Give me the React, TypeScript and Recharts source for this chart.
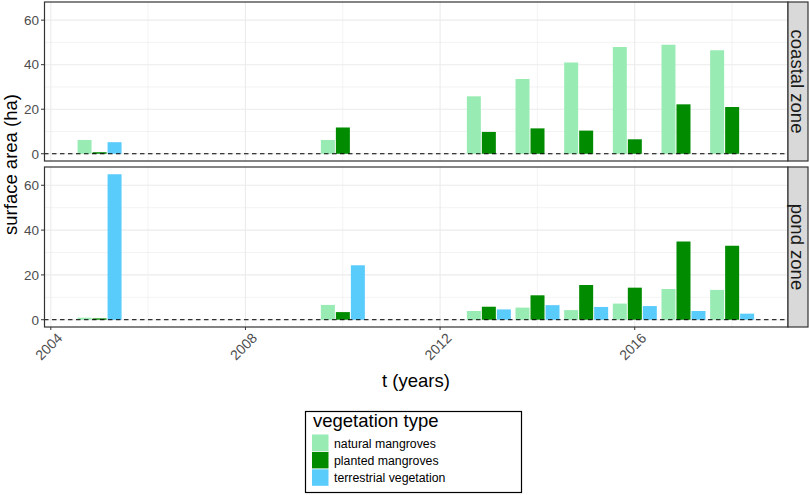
import React from "react";
import { Bar, BarChart, CartesianGrid, ReferenceLine, XAxis, YAxis } from "recharts";

// years with observations
const years = [2005, 2010, 2013, 2014, 2015, 2016, 2017, 2018];

// surface area (ha) per vegetation type
const coastalNatural = [6.2, 6.2, 25.8, 33.6, 41.0, 47.9, 49.0, 46.5];
const coastalPlanted = [0.7, 11.8, 9.8, 11.4, 10.4, 6.5, 22.2, 21.0];
const coastalTerrestrial = [5.2, null, null, null, null, null, null, null];

const pondNatural = [0.9, 6.6, 3.9, 5.4, 4.3, 7.2, 13.7, 13.3];
const pondPlanted = [0.6, 3.4, 5.8, 10.9, 15.5, 14.3, 34.9, 33.0];
const pondTerrestrial = [64.9, 24.3, 4.6, 6.5, 5.7, 6.1, 3.9, 2.7];

const yTicks = [0, 20, 40, 60];
const yMinor = [10, 30, 50];
const xTicks = [2004, 2008, 2012, 2016];
const xMinor = [2006, 2010, 2014, 2018];

const legendLabels = ["natural mangroves", "planted mangroves", "terrestrial vegetation"];
const colors = ["#98ecb3", "#008b00", "#5accfc"];

const FONT = "'Liberation Sans', Arial, Helvetica, sans-serif";
const X_DOMAIN = [2003.86, 2019.15];
const Y_DOMAIN = [-3.25, 68.15];

function rows(nat: (number | null)[], pla: (number | null)[], ter: (number | null)[]) {
  return years.map((t, i) => ({ t, natural: nat[i], planted: pla[i], terrestrial: ter[i] }));
}

const coastalData = rows(coastalNatural, coastalPlanted, coastalTerrestrial);
const pondData = rows(pondNatural, pondPlanted, pondTerrestrial);

const YearTick = (props: any) => {
  const { x, payload } = props;
  const ax = x + 12.5;
  const ay = 179;
  return (
    <text
      x={ax}
      y={ay}
      transform={`rotate(-45 ${ax} ${ay})`}
      textAnchor="end"
      fontSize={14}
      fill="#4d4d4d"
      fontFamily={FONT}
    >
      {payload.value}
    </text>
  );
};

function Panel({ data, showX, height, top }: { data: any[]; showX: boolean; height: number; top: number }) {
  return (
    <BarChart
      width={809}
      height={height}
      data={data}
      margin={{ top, right: 21, bottom: 0, left: 0 }}
      barCategoryGap="5%"
      barGap={1}
    >
      <CartesianGrid
        stroke="#ebebeb"
        strokeWidth={0.6}
        horizontalValues={yMinor}
        verticalValues={xMinor}
      />
      <CartesianGrid
        stroke="#ebebeb"
        strokeWidth={1.1}
        horizontalValues={yTicks}
        verticalValues={xTicks}
      />
      <XAxis
        dataKey="t"
        type="number"
        domain={X_DOMAIN}
        allowDataOverflow
        ticks={xTicks}
        hide={!showX}
        height={showX ? 53 : 0}
        axisLine={false}
        tickSize={3}
        tickLine={{ stroke: "#333333" }}
        tick={<YearTick />}
        interval={0}
      />
      <YAxis
        type="number"
        domain={Y_DOMAIN}
        allowDataOverflow
        ticks={yTicks}
        width={44}
        axisLine={false}
        tickSize={3}
        tickMargin={2}
        tickLine={{ stroke: "#333333" }}
        tick={{ fontSize: 13.5, fill: "#4d4d4d", fontFamily: FONT }}
        interval={0}
      />
      <Bar dataKey="natural" fill={colors[0]} isAnimationActive={false} />
      <Bar dataKey="planted" fill={colors[1]} isAnimationActive={false} />
      <Bar dataKey="terrestrial" fill={colors[2]} isAnimationActive={false} />
      <ReferenceLine y={0} stroke="#000" strokeWidth={1} strokeDasharray="4.5 3.5" />
    </BarChart>
  );
}

export default function App() {
  return (
    <div style={{ position: "absolute", left: 0, top: 0, width: 809, height: 495, background: "#fff", fontFamily: FONT }}>
      <div style={{ position: "absolute", left: 0, top: 0 }}>
        <Panel data={coastalData} showX={false} height={161} top={2} />
      </div>
      <div style={{ position: "absolute", left: 0, top: 160 }}>
        <Panel data={pondData} showX={true} height={220} top={7} />
      </div>
      <svg width={809} height={495} style={{ position: "absolute", left: 0, top: 0, pointerEvents: "none" }}>
        {/* panel borders and strips */}
        <rect x={44.5} y={2} width={743.5} height={159} fill="none" stroke="#333" strokeWidth={1.2} />
        <rect x={44.5} y={167} width={743.5} height={160} fill="none" stroke="#333" strokeWidth={1.2} />
        <rect x={788} y={2} width={20} height={159} fill="#d9d9d9" stroke="#333" strokeWidth={1.2} />
        <rect x={788} y={167} width={20} height={160} fill="#d9d9d9" stroke="#333" strokeWidth={1.2} />
        <text x={791} y={81.5} transform="rotate(90 791 81.5)" textAnchor="middle" fontSize={18.5} fill="#1a1a1a" fontFamily={FONT}>
          coastal zone
        </text>
        <text x={791} y={247} transform="rotate(90 791 247)" textAnchor="middle" fontSize={18.5} fill="#1a1a1a" fontFamily={FONT}>
          pond zone
        </text>
        {/* axis titles */}
        <text x={16.5} y={164.5} transform="rotate(-90 16.5 164.5)" textAnchor="middle" fontSize={18.5} fill="#000" fontFamily={FONT}>
          surface area (ha)
        </text>
        <text x={416} y={387} textAnchor="middle" fontSize={18.5} fill="#000" fontFamily={FONT}>
          t (years)
        </text>
        {/* legend */}
        <rect x={305.5} y={411.5} width={216} height={81} fill="#fff" stroke="#000" strokeWidth={1.2} />
        <text x={313} y={427} fontSize={18.5} fill="#000" fontFamily={FONT}>
          vegetation type
        </text>
        {legendLabels.map((label, i) => (
          <g key={label}>
            <rect x={312} y={434.5 + i * 17.4} width={16.5} height={16.5} fill={colors[i]} />
            <text x={334} y={447.5 + i * 17.4} fontSize={12.3} fill="#000" fontFamily={FONT}>
              {label}
            </text>
          </g>
        ))}
      </svg>
    </div>
  );
}
